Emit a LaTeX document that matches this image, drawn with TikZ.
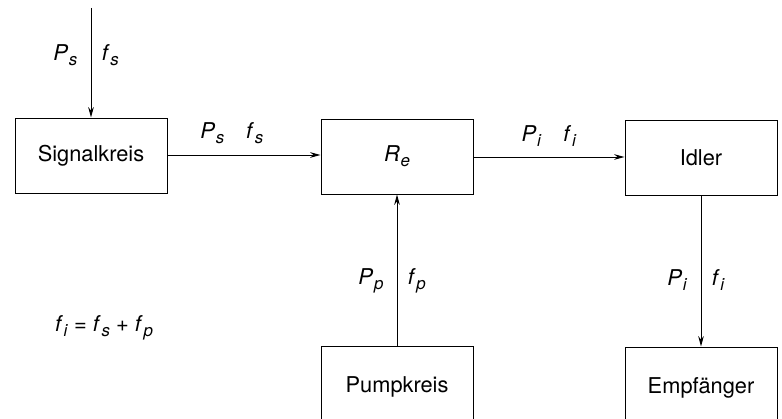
\documentclass[tikz,border=0pt]{standalone}
\usepackage{fontspec}
\setmainfont{TeX Gyre Heros}
\usetikzlibrary{arrows.meta}
\newcommand{\V}[2]{\textit{#1}\kern.5pt\raisebox{-.45ex}{\fontsize{12}{12}\selectfont\textit{#2}}}

\begin{document}
\begin{tikzpicture}[x=0.25mm, y=-0.25mm, line width=0.7pt,
	font=\fontsize{15.5}{18}\selectfont,
	block/.style={draw, minimum width=3.8cm, minimum height=1.875cm},
	lowblock/.style={draw, minimum width=3.8cm, minimum height=2.05cm},
	flow/.style={-{Stealth[length=2.6mm, width=1.4mm]}}]
			\useasboundingbox (0,0) rectangle (782,419);
			% boxes
			\node[block] (sig) at (91,155.5) {Signalkreis};
			\node[block] (re) at (397,156.5) {\V{R}{e}};
			\node[block] (idl) at (701,157.5) {Idler};
			\node[lowblock] (pump) at (397,387) {Pumpkreis};
			\node[lowblock] (emp) at (701,388) {Empfänger};
			\coordinate (src) at (91,8);
			% connections
			\draw[flow] (src) -- (sig.north)
				node[pos=0.43, left=6pt] {\V{P}{s}}
				node[pos=0.43, right=4pt] {\V{f}{s}};
			\draw[flow] (sig.east |- 0,155) -- (re.west |- 0,155)
				node[pos=0.42, above=4pt] {\V{P}{s}\quad\V{f}{s}};
			\draw[flow] (re.east |- 0,157) -- (idl.west |- 0,157)
				node[midway, above=4pt] {\V{P}{i}\quad\V{f}{i}};
			\draw[flow] (pump.north) -- (re.south)
				node[pos=0.43, left=6pt] {\V{P}{p}}
				node[pos=0.43, right=4pt] {\V{f}{p}};
			\draw[flow] (idl.south) -- (emp.north)
				node[pos=0.56, left=6pt] {\V{P}{i}}
				node[pos=0.56, right=4pt] {\V{f}{i}};
			% formula
			\node (eq) at (104,328) {\V{f}{i} = \V{f}{s} + \V{f}{p}};
		\end{tikzpicture}
\end{document}
